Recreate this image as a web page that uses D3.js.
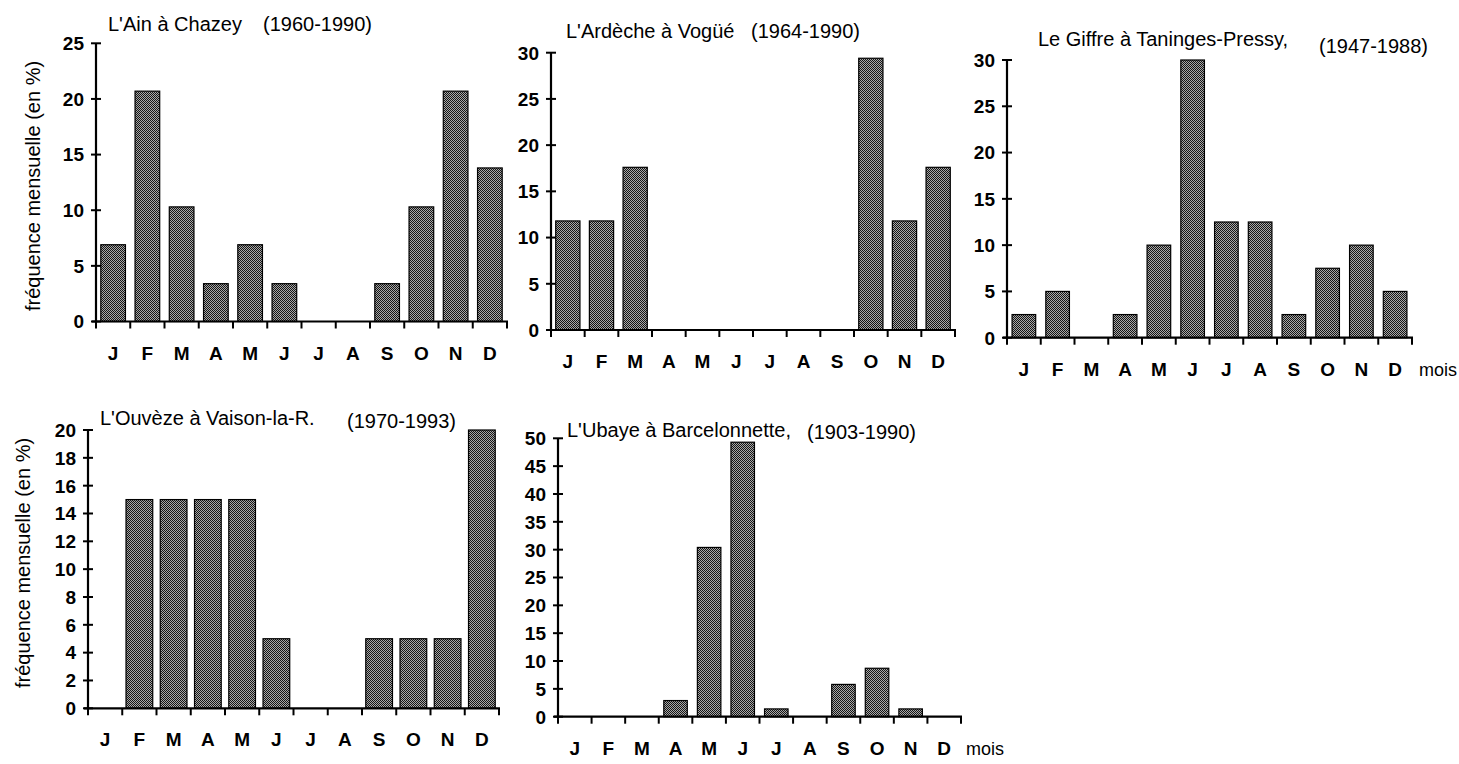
<!DOCTYPE html>
<html>
<head>
<meta charset="utf-8">
<script src="https://cdn.jsdelivr.net/npm/d3@7"></script>
<style>
  html, body { margin: 0; padding: 0; background: #fff; }
  svg { display: block; }
  .title, .ylabel { font-family: "Liberation Sans", Arial, Helvetica, sans-serif; font-size: 20px; fill: #000; }
  .unit { font-family: "Liberation Sans", Arial, Helvetica, sans-serif; font-size: 18px; fill: #000; }
  .tick-label { font-family: "Liberation Sans Narrow", "Arial Narrow", "Liberation Sans", Arial, sans-serif; font-weight: bold; font-size: 19px; fill: #000; }
  .axis-line { stroke: #000; stroke-width: 2.2; fill: none; }
  .tick { stroke: #000; stroke-width: 2; }
  .bar { fill: url(#stipple); stroke: #000; stroke-width: 1.2; }
</style>
</head>
<body>
<svg id="chart" width="1459" height="764"></svg>
<script>
const months = ["J", "F", "M", "A", "M", "J", "J", "A", "S", "O", "N", "D"];

const stations = [
  "L'Ain à Chazey",
  "L'Ardèche à Vogüé",
  "Le Giffre à Taninges-Pressy,",
  "L'Ouvèze à Vaison-la-R.",
  "L'Ubaye à Barcelonnette,",
];
const periods = ["(1960-1990)", "(1964-1990)", "(1947-1988)", "(1970-1993)", "(1903-1990)"];

// monthly frequency of floods, in %
const ainValues = [6.9, 20.7, 10.3, 3.4, 6.9, 3.4, 0, 0, 3.4, 10.3, 20.7, 13.8];
const ardecheValues = [11.8, 11.8, 17.6, 0, 0, 0, 0, 0, 0, 29.4, 11.8, 17.6];
const giffreValues = [2.5, 5, 0, 2.5, 10, 30, 12.5, 12.5, 2.5, 7.5, 10, 5];
const ouvezeValues = [0, 15, 15, 15, 15, 5, 0, 0, 5, 5, 5, 20];
const ubayeValues = [0, 0, 0, 2.9, 30.4, 49.3, 1.4, 0, 5.8, 8.7, 1.4, 0];

const yMaxima = [25, 30, 30, 20, 50];
const yTickSteps = [5, 5, 5, 2, 5];

const yLabelText = "fréquence mensuelle (en %)";
const unitText = "mois";

// layout of each small chart on the page
const layouts = [
  { axisX: 96, x1: 507, y0: 321.5, yTop: 43.3, sx: 108, sy: 31, px: 263, py: 31, pad: 0.28, unit: false },
  { axisX: 551, x1: 955, y0: 330, yTop: 52.7, sx: 566, sy: 38, px: 751, py: 38, pad: 0.28, unit: false },
  { axisX: 1007, x1: 1412, y0: 337.7, yTop: 60, sx: 1038, sy: 46, px: 1319, py: 53, pad: 0.3, unit: true, ux: 1419 },
  { axisX: 88, x1: 499, y0: 708.3, yTop: 430, sx: 100, sy: 425, px: 347, py: 428, pad: 0.22, unit: false },
  { axisX: 558, x1: 961, y0: 716.7, yTop: 438.3, sx: 567, sy: 437, px: 807, py: 439, pad: 0.3, unit: true, ux: 966 },
];

const seriesList = [ainValues, ardecheValues, giffreValues, ouvezeValues, ubayeValues];

const svg = d3.select("#chart");

const defs = svg.append("defs");
const pattern = defs
  .append("pattern")
  .attr("id", "stipple")
  .attr("width", 2)
  .attr("height", 2)
  .attr("patternUnits", "userSpaceOnUse");
pattern.append("rect").attr("width", 2).attr("height", 2).attr("fill", "#a8a8a8");
pattern.append("rect").attr("width", 1).attr("height", 1).attr("fill", "#151515");
pattern.append("rect").attr("x", 1).attr("y", 1).attr("width", 1).attr("height", 1).attr("fill", "#151515");

function drawPanel(index) {
  const lay = layouts[index];
  const values = seriesList[index];
  const g = svg.append("g").attr("class", "panel");

  const x = d3
    .scaleBand()
    .domain(d3.range(months.length))
    .range([lay.axisX, lay.x1])
    .paddingInner(lay.pad)
    .paddingOuter(lay.pad / 2);

  const y = d3.scaleLinear().domain([0, yMaxima[index]]).range([lay.y0, lay.yTop]);

  // bars
  g.selectAll(".bar")
    .data(values.map((v, i) => ({ v, i })).filter((d) => d.v > 0))
    .join("rect")
    .attr("class", "bar")
    .attr("x", (d) => x(d.i))
    .attr("width", x.bandwidth())
    .attr("y", (d) => y(d.v))
    .attr("height", (d) => y(0) - y(d.v));

  // x axis: line, ticks at month boundaries, labels centred in each month
  const step = x.step();
  const bounds = d3.range(months.length + 1).map((k) => lay.axisX + k * step);

  g.append("line")
    .attr("class", "axis-line")
    .attr("x1", lay.axisX - 4)
    .attr("x2", lay.x1 + 1)
    .attr("y1", y(0))
    .attr("y2", y(0));

  g.selectAll(".xtick")
    .data(bounds)
    .join("line")
    .attr("class", "tick")
    .attr("x1", (d) => d)
    .attr("x2", (d) => d)
    .attr("y1", y(0))
    .attr("y2", y(0) + 7);

  g.selectAll(".month")
    .data(months)
    .join("text")
    .attr("class", "tick-label")
    .attr("x", (d, i) => x(i) + x.bandwidth() / 2)
    .attr("y", y(0) + 38)
    .attr("text-anchor", "middle")
    .text((d) => d);

  if (lay.unit) {
    g.append("text")
      .attr("class", "unit")
      .attr("x", lay.ux)
      .attr("y", y(0) + 38)
      .text(unitText);
  }

  // y axis
  g.append("line")
    .attr("class", "axis-line")
    .attr("x1", lay.axisX)
    .attr("x2", lay.axisX)
    .attr("y1", y(0) + 1)
    .attr("y2", y(yMaxima[index]));

  const yTicks = d3.range(0, yMaxima[index] + 0.001, yTickSteps[index]);

  g.selectAll(".ytick")
    .data(yTicks)
    .join("line")
    .attr("class", "tick")
    .attr("x1", lay.axisX - 5)
    .attr("x2", lay.axisX + 5)
    .attr("y1", (d) => y(d))
    .attr("y2", (d) => y(d));

  g.selectAll(".ylab")
    .data(yTicks)
    .join("text")
    .attr("class", "tick-label")
    .attr("x", lay.axisX - 12)
    .attr("y", (d) => y(d))
    .attr("dy", "0.36em")
    .attr("text-anchor", "end")
    .text((d) => d);

  // title in two pieces (station, period)
  g.append("text").attr("class", "title").attr("x", lay.sx).attr("y", lay.sy).text(stations[index]);
  g.append("text").attr("class", "title").attr("x", lay.px).attr("y", lay.py).text(periods[index]);
}

d3.range(seriesList.length).forEach(drawPanel);

// shared y labels, one per row
[
  { x: 40, y: 186 },
  { x: 30, y: 563 },
].forEach((p) => {
  svg
    .append("text")
    .attr("class", "ylabel")
    .attr("transform", `translate(${p.x},${p.y}) rotate(-90)`)
    .attr("text-anchor", "middle")
    .text(yLabelText);
});
</script>
</body>
</html>
